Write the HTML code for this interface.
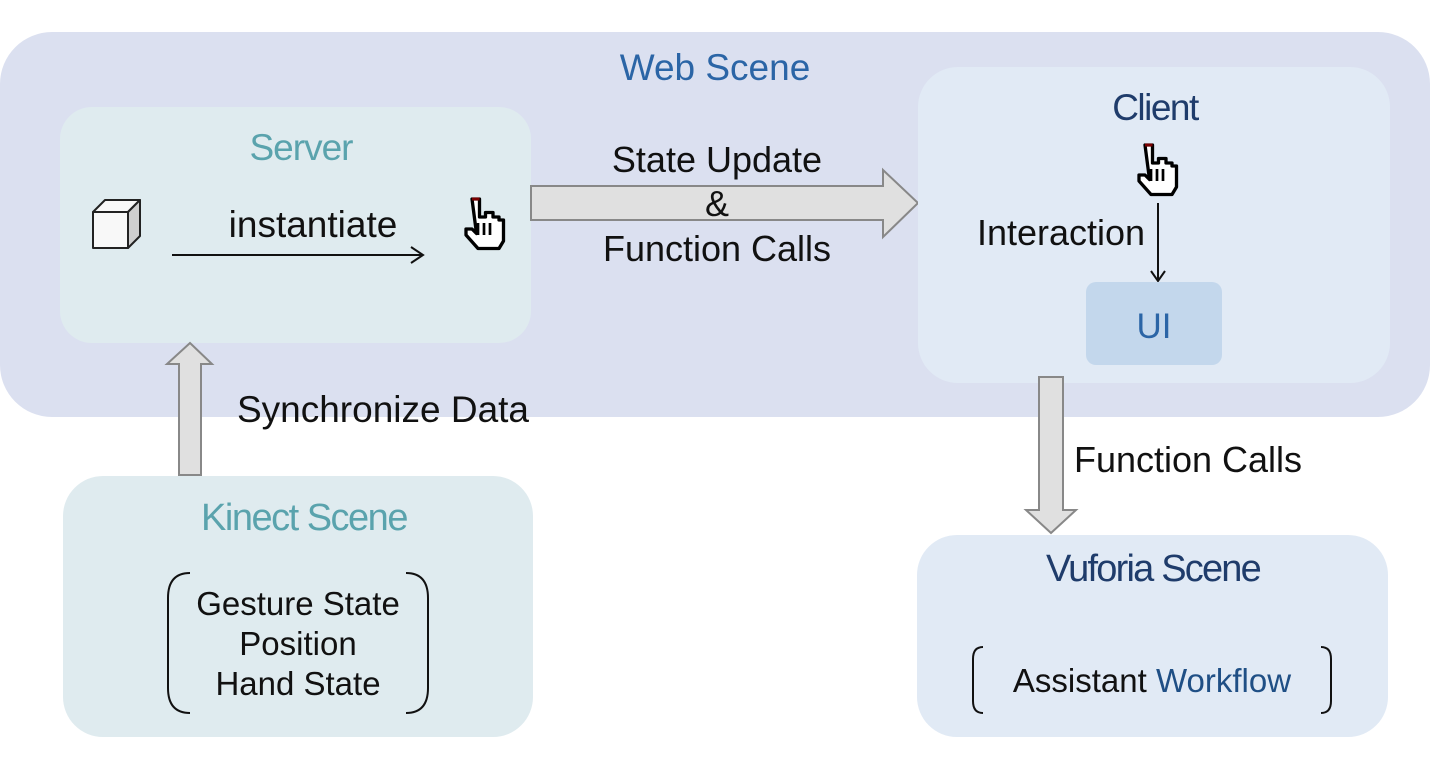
<!DOCTYPE html>
<html><head><meta charset="utf-8"><style>
html,body{margin:0;padding:0;background:#fff;}
svg{display:block;}
text{font-family:"Liberation Sans",sans-serif;}
</style></head><body>
<svg width="1432" height="761" viewBox="0 0 1432 761" xmlns="http://www.w3.org/2000/svg">
<defs>
<g id="hand">
<path d="M-6,-14 h5 v12 h4 v-3 h5 v3 h4 v2 h3 v14 l-3,5 h-14 l-8,-9 v-4 h4 l3,3 z" fill="#fff" stroke="#000" stroke-width="2.2" stroke-linejoin="round"/>
<path d="M-2,2 v8 M2,2 v8 M6,2 v8" stroke="#000" stroke-width="1.8"/>
<path d="M-6,-14 h5" stroke="#7a0000" stroke-width="2"/>
</g>
</defs>
<rect x="0" y="32" width="1430" height="385" rx="52" fill="#dbe0f0"/>
<text x="715" y="80" font-size="37" fill="#2b65a6" text-anchor="middle">Web Scene</text>

<rect x="60" y="107" width="471" height="236" rx="32" fill="#dfebef"/>
<text x="301" y="160" font-size="37" fill="#5aa3ad" text-anchor="middle" letter-spacing="-1">Server</text>
<g stroke="#222" stroke-width="2" stroke-linejoin="round">
<path d="M93,212 h35 v36 h-35 z" fill="#f8f8f8"/>
<path d="M93,212 l12,-12 h35 l-12,12 z" fill="#f8f8f8"/>
<path d="M128,212 l12,-12 v36 l-12,12 z" fill="#cfcfcf"/>
</g>
<text x="313" y="237" font-size="37" fill="#111" text-anchor="middle">instantiate</text>
<path d="M172,255 h251 M411,247 l12,8 l-12,8" stroke="#111" stroke-width="2" fill="none"/>
<use href="#hand" transform="translate(481,220) scale(1.5)"/>

<path d="M531,186 H883 V170 L918,203 L883,237 V220 H531 Z" fill="#e0e0e0" stroke="#888" stroke-width="2"/>
<text x="717" y="172" font-size="36" fill="#111" text-anchor="middle">State Update</text>
<text x="717" y="216" font-size="36" fill="#111" text-anchor="middle">&amp;</text>
<text x="717" y="261" font-size="36" fill="#111" text-anchor="middle">Function Calls</text>

<rect x="918" y="67" width="472" height="316" rx="40" fill="#e1eaf5"/>
<text x="1155" y="120" font-size="37" fill="#1f3c6b" text-anchor="middle" letter-spacing="-1.5">Client</text>
<use href="#hand" transform="translate(1154,166) scale(1.5)"/>
<path d="M1158,203 V281 M1151,271 l7,10 l7,-10" stroke="#111" stroke-width="2" fill="none"/>
<text x="1061" y="245" font-size="36" fill="#111" text-anchor="middle">Interaction</text>
<rect x="1086" y="282" width="136" height="83" rx="10" fill="#c3d7ec"/>
<text x="1154" y="338" font-size="35" fill="#2b65a6" text-anchor="middle">UI</text>

<path d="M179,475 V364 H167 L190,343 L212,364 H201 V475 Z" fill="#e0e0e0" stroke="#888" stroke-width="2"/>
<text x="383" y="422" font-size="37" fill="#111" text-anchor="middle">Synchronize Data</text>

<path d="M1039,377 V510 H1026 L1051,533 L1076,510 H1063 V377 Z" fill="#e0e0e0" stroke="#888" stroke-width="2"/>
<text x="1188" y="472" font-size="36" fill="#111" text-anchor="middle">Function Calls</text>

<rect x="63" y="476" width="470" height="261" rx="40" fill="#dfebef"/>
<text x="304" y="530" font-size="38" fill="#5aa3ad" text-anchor="middle" letter-spacing="-1.5">Kinect Scene</text>
<path d="M190,573 q-22,0 -22,25 v90 q0,25 22,25 M406,573 q22,0 22,25 v90 q0,25 -22,25" stroke="#111" stroke-width="2" fill="none"/>
<text x="298" y="615" font-size="33" fill="#111" text-anchor="middle">Gesture State</text>
<text x="298" y="655" font-size="33" fill="#111" text-anchor="middle">Position</text>
<text x="298" y="695" font-size="33" fill="#111" text-anchor="middle">Hand State</text>

<rect x="917" y="535" width="471" height="202" rx="40" fill="#e1eaf5"/>
<text x="1153" y="581" font-size="38" fill="#1f3c6b" text-anchor="middle" letter-spacing="-1.8">Vuforia Scene</text>
<path d="M983,647 q-10,0 -10,12 v42 q0,12 10,12 M1321,647 q10,0 10,12 v42 q0,12 -10,12" stroke="#111" stroke-width="2" fill="none"/>
<text x="1152" y="692" font-size="33" fill="#111" text-anchor="middle">Assistant <tspan fill="#1f4f85">Workflow</tspan></text>
</svg>
</body></html>
